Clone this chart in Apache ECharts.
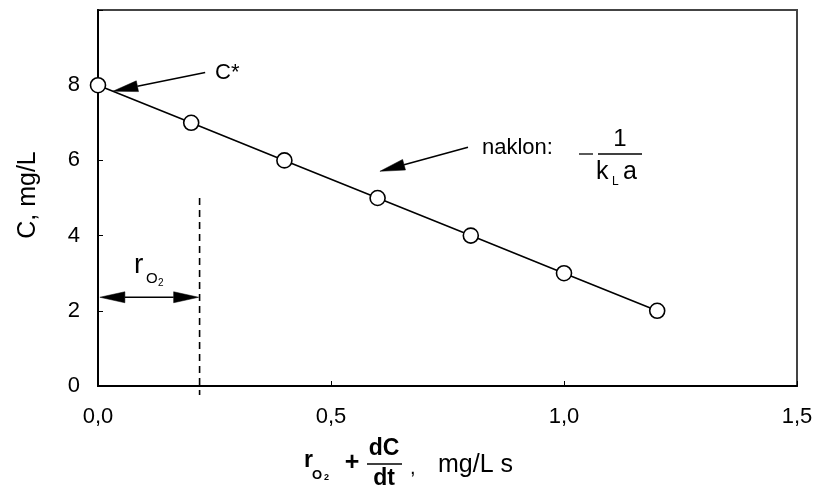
<!DOCTYPE html>
<html>
<head>
<meta charset="utf-8">
<script src="https://cdn.jsdelivr.net/npm/echarts@6/dist/echarts.min.js"></script>
<style>
html,body{margin:0;padding:0;background:#fff;}
#chart{width:829px;height:489px;}
</style>
</head>
<body>
<div id="chart"></div>
<script>
// ---- data ----
var rateValues = [0.0, 0.2, 0.4, 0.6, 0.8, 1.0, 1.2];
var concValues = [8, 7, 6, 5, 4, 3, 2];
var rO2Value = 0.218;
var cStarArrow = [[0.23, 8.34], [0.032, 7.84]];
var slopeArrow = [[0.794, 6.35], [0.605, 5.71]];
var rO2ArrowY = 2.36;
var rO2ArrowStart = 0.004;
var dashTop = 5.0, dashBottom = -0.24;

var FONT = '"Liberation Sans", Arial, sans-serif';
var chart = echarts.init(document.getElementById('chart'));
var pts = rateValues.map(function (x, i) { return [x, concValues[i]]; });

chart.setOption({
  animation: false,
  backgroundColor: '#fff',
  grid: { left: 98, top: 10, right: 32, bottom: 103, show: true, borderColor: '#444', borderWidth: 2, backgroundColor: 'transparent' },
  xAxis: {
    type: 'value', min: 0, max: 1.5, interval: 0.5,
    axisLine: { lineStyle: { color: '#000', width: 2 } },
    axisTick: { inside: true, length: 5, lineStyle: { color: '#000' } },
    splitLine: { show: false },
    axisLabel: { margin: 20, fontSize: 22, color: '#000', fontFamily: FONT,
      formatter: function (v) { return v.toFixed(1).replace('.', ','); } }
  },
  yAxis: {
    type: 'value', min: 0, max: 10, interval: 2,
    axisLine: { show: true, lineStyle: { color: '#000', width: 2 } },
    axisTick: { show: true, inside: true, length: 5, lineStyle: { color: '#000' } },
    splitLine: { show: false },
    axisLabel: { margin: 18, fontSize: 22, color: '#000', fontFamily: FONT,
      formatter: function (v) { return v === 10 ? '' : String(v); } }
  },
  series: [{
    type: 'line',
    data: pts,
    clip: false,
    symbol: 'circle',
    symbolSize: 15,
    lineStyle: { color: '#000', width: 1.6 },
    itemStyle: { color: '#fff', borderColor: '#000', borderWidth: 1.6 },
    z: 5
  }]
});

function px(c) { return chart.convertToPixel({ gridIndex: 0 }, c); }

function txt(x, y, s, size, opts) {
  opts = opts || {};
  return {
    type: 'text', x: x, y: y, z: 10, rotation: opts.rotation || 0,
    style: { text: s, font: (opts.bold ? 'bold ' : '') + size + 'px ' + FONT, fill: '#000',
      textAlign: opts.align || 'left', textVerticalAlign: 'middle' }
  };
}
function hline(x1, x2, y) {
  return { type: 'line', z: 10, shape: { x1: x1, y1: y, x2: x2, y2: y }, style: { stroke: '#000', lineWidth: 1.3 } };
}
// arrow with filled triangular head at "to"
function arrowHead(tip, dirFrom, len, half) {
  var dx = tip[0] - dirFrom[0], dy = tip[1] - dirFrom[1];
  var d = Math.sqrt(dx * dx + dy * dy); dx /= d; dy /= d;
  var bx = tip[0] - dx * len, by = tip[1] - dy * len;
  return {
    base: [bx, by],
    el: { type: 'polygon', z: 11, shape: { points: [tip, [bx - dy * half, by + dx * half], [bx + dy * half, by - dx * half]] },
      style: { fill: '#000', stroke: '#000', lineWidth: 0.5 } }
  };
}
function arrow(fromData, toData, both) {
  var a = px(fromData), b = px(toData);
  var els = [];
  var hb = arrowHead(b, a, 25, 5.5);
  var start = a;
  if (both) { var ha = arrowHead(a, b, 25, 5.5); start = ha.base; els.push(ha.el); }
  els.push({ type: 'line', z: 10, shape: { x1: start[0], y1: start[1], x2: hb.base[0], y2: hb.base[1] }, style: { stroke: '#000', lineWidth: 1.6 } });
  els.push(hb.el);
  return els;
}

var dTop = px([rO2Value, dashTop]), dBot = px([rO2Value, dashBottom]);
var graphics = []
  .concat(arrow(cStarArrow[0], cStarArrow[1], false))
  .concat(arrow(slopeArrow[0], slopeArrow[1], false))
  .concat(arrow([rO2ArrowStart, rO2ArrowY], [rO2Value - 0.002, rO2ArrowY], true))
  .concat([
    { type: 'line', z: 10, shape: { x1: dTop[0], y1: dTop[1], x2: dBot[0], y2: dBot[1] },
      style: { stroke: '#000', lineWidth: 1.6, lineDash: [7, 5] } },
    // y axis title
    txt(28, 195, 'C, mg/L', 25, { align: 'center', rotation: Math.PI / 2 }),
    // C* label
    txt(215, 73, 'C*', 22),
    // slope label
    txt(482, 148, 'naklon:', 22),
    hline(579, 593, 154),
    txt(620, 139, '1', 24, { align: 'center' }),
    hline(598, 642, 154),
    txt(596, 172, 'k', 25),
    txt(612, 182, 'L', 12),
    txt(623, 172, 'a', 25),
    // r_O2 label in plot
    txt(134, 265, 'r', 28),
    txt(146, 279, 'O', 15),
    txt(158, 283, '2', 10),
    // x axis title
    txt(304, 461, 'r', 23, { bold: true }),
    txt(312, 475, 'O', 13, { bold: true }),
    txt(324, 478, '2', 9, { bold: true }),
    txt(352, 463, '+', 25, { bold: true, align: 'center' }),
    txt(384, 449, 'dC', 23, { bold: true, align: 'center' }),
    hline(367, 402, 464),
    txt(384, 479, 'dt', 23, { bold: true, align: 'center' }),
    txt(410, 468, ',', 20),
    txt(438, 465, 'mg/L s', 25)
  ]);
chart.setOption({ graphic: graphics });
</script>
</body>
</html>
